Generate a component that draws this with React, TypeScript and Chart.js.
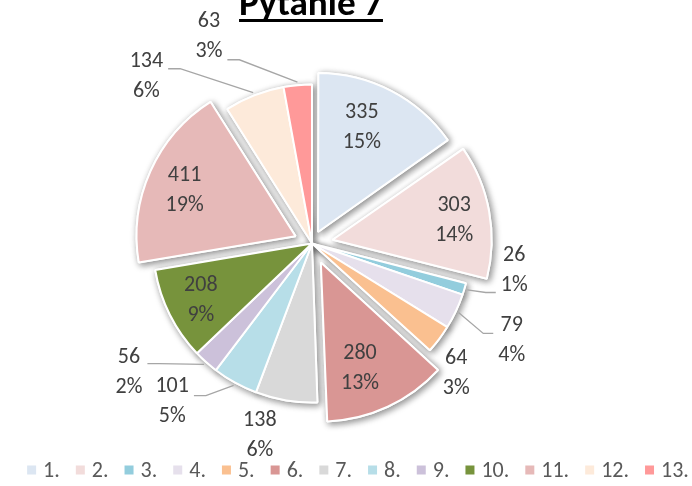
import React, { useEffect, useRef } from 'react';
import { Chart, registerables } from 'chart.js';

Chart.register(...registerables);

// ---- data ----
const CATEGORIES = ['1.', '2.', '3.', '4.', '5.', '6.', '7.', '8.', '9.', '10.', '11.', '12.', '13.'];
const VALUES = [335, 303, 26, 79, 64, 280, 138, 101, 56, 208, 411, 134, 63];
const PERCENT_LABELS = ['15%', '14%', '1%', '4%', '3%', '13%', '6%', '5%', '2%', '9%', '19%', '6%', '3%'];
const TITLE = 'Pytanie 7';

// ---- styles ----
const COLORS = [
  '#DCE6F2', '#F2DCDB', '#93CDDD', '#E6E0EC', '#FAC090', '#D99694', '#D9D9D9',
  '#B7DEE8', '#CCC1DA', '#77933C', '#E6B9B8', '#FDEADA', '#FF9999',
];
const EXPLODE = [52, 84, 0, 0, 0, 84, 0, 0, 0, 0, 72, 0, 0]; // chart.js shifts by offset/4
const FONT = 'Carlito, Lato, "Open Sans", sans-serif';
const LABEL_COLOR = '#404040';
const LEGEND_COLOR = '#595959';
const LEADER_COLOR = '#A6A6A6';
// label placement: angle (deg, clockwise from top) and distance from pie centre
const LABEL_LAYOUT: { a: number; d: number; leader?: { side: 'left' | 'right'; dy: number; elbow: number } }[] = [
  { a: 23.3, d: 126 },
  { a: 80.8, d: 144 },
  { a: 97.6, d: 204, leader: { side: 'left', dy: 22, elbow: 10 } },
  { a: 115.9, d: 222, leader: { side: 'left', dy: -7, elbow: 10 } },
  { a: 132, d: 194 },
  { a: 159, d: 134 },
  { a: 195.2, d: 199 },
  { a: 221.5, d: 211, leader: { side: 'right', dy: -6, elbow: 12 } },
  { a: 234.8, d: 224, leader: { side: 'right', dy: -9, elbow: 12 } },
  { a: 242.8, d: 125 },
  { a: 292.6, d: 138 },
  { a: 315.2, d: 235, leader: { side: 'right', dy: -8, elbow: 12 } },
  { a: 333.5, d: 231, leader: { side: 'right', dy: 23, elbow: 12 } },
];

const fixRadiusPlugin = {
  id: 'fixRadius',
  afterDatasetUpdate(chart: any, args: any) {
    const meta = args.meta;
    meta.data.forEach((arc: any, i: number) => {
      const off = (EXPLODE[i] || 0) / 4;
      const circ = arc.endAngle - arc.startAngle;
      const fix = 1 - Math.sin(Math.min(Math.PI, circ || 0));
      arc.outerRadius -= off * fix;
    });
  },
};

const shadowPlugin = {
  id: 'sliceShadow',
  beforeDatasetsDraw(chart: any) {
    const ctx = chart.ctx;
    const meta = chart.getDatasetMeta(0);
    ctx.save();
    ctx.shadowColor = 'rgba(0,0,0,0.45)';
    ctx.shadowBlur = 7;
    ctx.shadowOffsetX = 2;
    ctx.shadowOffsetY = 2;
    meta.data.forEach((a: any) => a.draw(ctx));
    ctx.restore();
  },
};

const labelsPlugin = {
  id: 'sliceLabels',
  afterDatasetsDraw(chart: any) {
    const ctx = chart.ctx;
    const meta = chart.getDatasetMeta(0);
    const arc0 = meta.data[0];
    const cx = arc0.x;
    const cy = arc0.y;
    const R = meta.controller.outerRadius;
    ctx.save();
    ctx.font = `22px ${FONT}`;
    ctx.textAlign = 'center';
    ctx.textBaseline = 'middle';
    VALUES.forEach((v, i) => {
      const L = LABEL_LAYOUT[i];
      const rad = (L.a * Math.PI) / 180;
      const x = cx + L.d * Math.sin(rad);
      const y = cy - L.d * Math.cos(rad);
      const t1 = String(v);
      const t2 = PERCENT_LABELS[i];
      ctx.fillStyle = LABEL_COLOR;
      ctx.fillText(t1, x, y - 15);
      ctx.fillText(t2, x, y + 15);
      if (L.leader) {
        const hw = Math.max(ctx.measureText(t1).width, ctx.measureText(t2).width) / 2;
        const arc = meta.data[i];
        const mid = (arc.startAngle + arc.endAngle) / 2;
        const ex = cx + (R + 3) * Math.cos(mid);
        const ey = cy + (R + 3) * Math.sin(mid);
        const sx = L.leader.side === 'right' ? x + hw + 5 : x - hw - 5;
        const sy = y + L.leader.dy;
        const bx = L.leader.side === 'right' ? sx + L.leader.elbow : sx - L.leader.elbow;
        ctx.strokeStyle = LEADER_COLOR;
        ctx.lineWidth = 1.3;
        ctx.beginPath();
        ctx.moveTo(sx, sy);
        ctx.lineTo(bx, sy);
        ctx.lineTo(ex, ey);
        ctx.stroke();
      }
    });
    ctx.restore();
  },
};

const titlePlugin = {
  id: 'underlinedTitle',
  afterDraw(chart: any) {
    const ctx = chart.ctx;
    ctx.save();
    const targetW = 144;
    ctx.font = `bold 34px ${FONT}`;
    const w0 = ctx.measureText(TITLE).width;
    const size = (34 * targetW) / w0;
    ctx.font = `bold ${size}px ${FONT}`;
    const w = ctx.measureText(TITLE).width;
    const x = 311;
    ctx.fillStyle = '#000';
    ctx.textAlign = 'center';
    ctx.textBaseline = 'alphabetic';
    ctx.fillText(TITLE, x, 15);
    ctx.fillRect(x - w / 2, 19, w, 3);
    ctx.restore();
  },
};

const legendPlugin = {
  id: 'bottomLegend',
  afterDraw(chart: any) {
    const ctx = chart.ctx;
    ctx.save();
    ctx.font = `22px ${FONT}`;
    const box = 9;
    const gap = 7;
    const spacing = 16;
    const widths = CATEGORIES.map((c) => ctx.measureText(c).width);
    const total = widths.reduce((s, w) => s + box + gap + w + spacing, 0) - spacing;
    let x = 358 - total / 2;
    const y = 471;
    ctx.textBaseline = 'middle';
    ctx.textAlign = 'left';
    CATEGORIES.forEach((c, i) => {
      ctx.fillStyle = COLORS[i];
      ctx.fillRect(x, y - box / 2 - 1, box, box);
      x += box + gap;
      ctx.fillStyle = LEGEND_COLOR;
      ctx.fillText(c, x, y);
      x += widths[i] + spacing;
    });
    ctx.restore();
  },
};

export default function App() {
  const ref = useRef<HTMLCanvasElement>(null);
  useEffect(() => {
    const canvas = ref.current!;
    const chart = new Chart(canvas, {
      type: 'pie',
      data: {
        labels: CATEGORIES,
        datasets: [
          {
            data: VALUES,
            backgroundColor: COLORS,
            borderColor: '#FFFFFF',
            borderWidth: 2,
            offset: EXPLODE,
          } as any,
        ],
      },
      options: {
        responsive: false,
        animation: false,
        radius: 159,
        events: [],
        layout: { padding: { top: 1, bottom: 0, left: 0, right: 68 } },
        plugins: {
          legend: { display: false },
          tooltip: { enabled: false },
          title: { display: false },
        },
      } as any,
      plugins: [fixRadiusPlugin, shadowPlugin, labelsPlugin, titlePlugin, legendPlugin],
    });
    return () => chart.destroy();
  }, []);
  return (
    <div style={{ position: 'fixed', left: 0, top: 0, width: 692, height: 486, background: '#FFFFFF' }}>
      <canvas ref={ref} width={692} height={486} style={{ width: 692, height: 486, display: 'block' }} />
    </div>
  );
}
